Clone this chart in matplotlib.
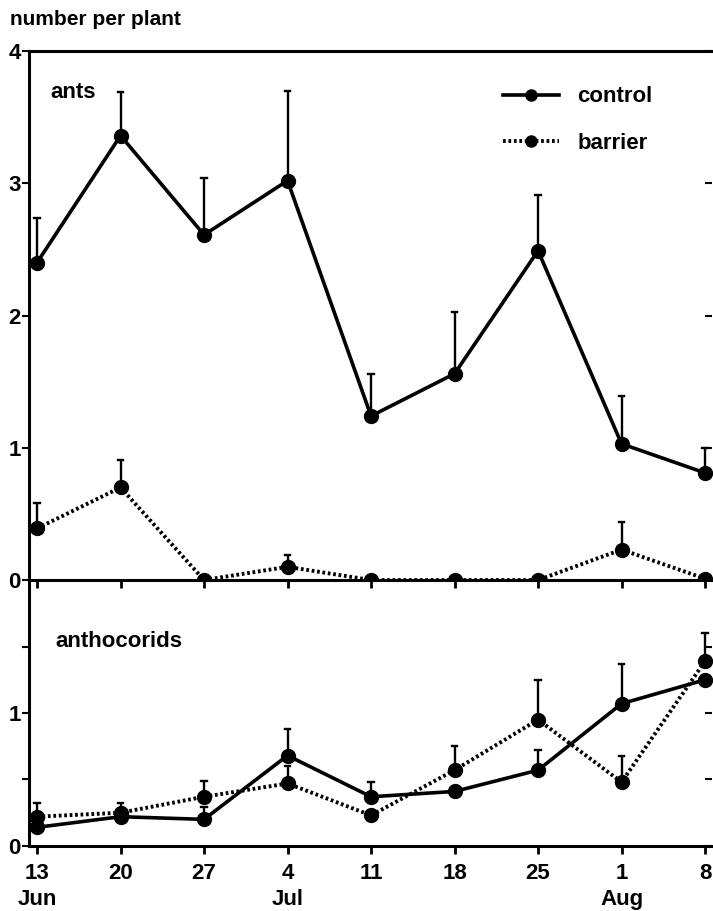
import matplotlib
matplotlib.use("Agg")
import matplotlib.pyplot as plt
import numpy as np

# sampling dates (weekly)
dates = ["13", "20", "27", "4", "11", "18", "25", "1", "8"]
months = [("Jun", 0), ("Jul", 3), ("Aug", 7)]

# ants, number per plant (mean and upper error)
ants_control = [2.40, 3.36, 2.61, 3.02, 1.24, 1.56, 2.49, 1.03, 0.81]
ants_control_err = [0.34, 0.33, 0.43, 0.68, 0.32, 0.47, 0.42, 0.36, 0.19]
ants_barrier = [0.39, 0.70, 0.0, 0.10, 0.0, 0.0, 0.0, 0.23, 0.01]
ants_barrier_err = [0.19, 0.21, 0.0, 0.09, 0.0, 0.0, 0.0, 0.21, 0.0]

# anthocorids
anth_control = [0.14, 0.22, 0.20, 0.68, 0.37, 0.41, 0.57, 1.07, 1.25]
anth_control_err = [0.0, 0.0, 0.09, 0.20, 0.11, 0.0, 0.15, 0.30, 0.0]
anth_barrier = [0.22, 0.25, 0.37, 0.47, 0.23, 0.57, 0.95, 0.48, 1.39]
anth_barrier_err = [0.10, 0.07, 0.12, 0.13, 0.0, 0.18, 0.30, 0.20, 0.21]

plt.rcParams["font.family"] = ["Liberation Sans", "DejaVu Sans"]
plt.rcParams["font.weight"] = "bold"
FS = 16

fig = plt.figure(figsize=(7.13, 9.11), dpi=100)
ax1 = fig.add_axes([0.0407, 0.3633, 0.958, 0.5807])
ax2 = fig.add_axes([0.0407, 0.0714, 0.958, 0.2919], sharex=ax1)

x = np.arange(len(dates))
SOLID = dict(color="black", lw=2.6, marker="o", ms=10, zorder=3)
DOTTED = dict(color="black", lw=2.8, ls=(0, (0.7, 0.7)), marker="o", ms=10, zorder=3)


def up_errors(ax, xs, ys, errs):
    for xi, yi, e in zip(xs, ys, errs):
        if e <= 0:
            continue
        ax.vlines(xi, yi, yi + e, color="black", lw=1.7, zorder=2)
        ax.plot([xi - 0.035, xi + 0.035], [yi + e, yi + e], color="black", lw=1.7, zorder=2)


ax1.plot(x, ants_control, label="control", **SOLID)
ax1.plot(x, ants_barrier, label="barrier", **DOTTED)
up_errors(ax1, x, ants_control, ants_control_err)
up_errors(ax1, x, ants_barrier, ants_barrier_err)

ax2.plot(x, anth_control, **SOLID)
ax2.plot(x, anth_barrier, **DOTTED)
up_errors(ax2, x, anth_control, anth_control_err)
up_errors(ax2, x, anth_barrier, anth_barrier_err)

ax1.set_xlim(-0.096, 8.084)
ax1.set_ylim(0, 4)
ax2.set_ylim(0, 2)

yt1 = [0, 1, 2, 3, 4]
yt2 = [0, 0.5, 1, 1.5]
for ax, yt in ((ax1, yt1), (ax2, yt2)):
    ax.patch.set_visible(False)
    ax.spines["right"].set_visible(False)
    for s in ("left", "top", "bottom"):
        ax.spines[s].set_linewidth(2.2)
    ax.tick_params(axis="y", direction="out", length=5, width=1.5, pad=1,
                   labelsize=FS)
    ax.tick_params(axis="x", direction="out", length=6, width=2, pad=6,
                   labelsize=FS)
    # small inward ticks on the right edge, no spine
    tw = ax.twinx()
    tw.set_ylim(ax.get_ylim())
    tw.set_yticks(yt)
    tw.tick_params(axis="y", direction="in", length=5, width=1.5, labelright=False)
    for s in tw.spines.values():
        s.set_visible(False)

ax2.spines["top"].set_visible(False)

ax1.set_yticks(yt1)
ax1.set_yticklabels(["0", "1", "2", "3", "4"])
ax2.set_yticks(yt2)
ax2.set_yticklabels(["0", "", "1", ""])
ax1.tick_params(axis="x", labelbottom=False)
ax2.set_xticks(x)
ax2.set_xticklabels(dates)

for name, pos in months:
    ax2.text(pos, -0.2, name, transform=ax2.get_xaxis_transform(),
             ha="center", va="center", fontsize=FS, fontweight="bold")

ax1.text(0.031, 0.922, "ants", transform=ax1.transAxes, fontsize=FS,
         fontweight="bold", va="center")
ax2.text(0.038, 0.77, "anthocorids", transform=ax2.transAxes, fontsize=FS,
         fontweight="bold", va="center")
fig.text(0.014, 0.979, "number per plant", fontsize=15, fontweight="bold", va="center")

leg = ax1.legend(loc="upper left", bbox_to_anchor=(0.694, 0.933), frameon=False,
                 fontsize=FS, handlelength=2.5, handletextpad=0.85, labelspacing=1.15,
                 borderpad=0, borderaxespad=0, markerscale=0.8)

fig.savefig("out.png", dpi=100)
